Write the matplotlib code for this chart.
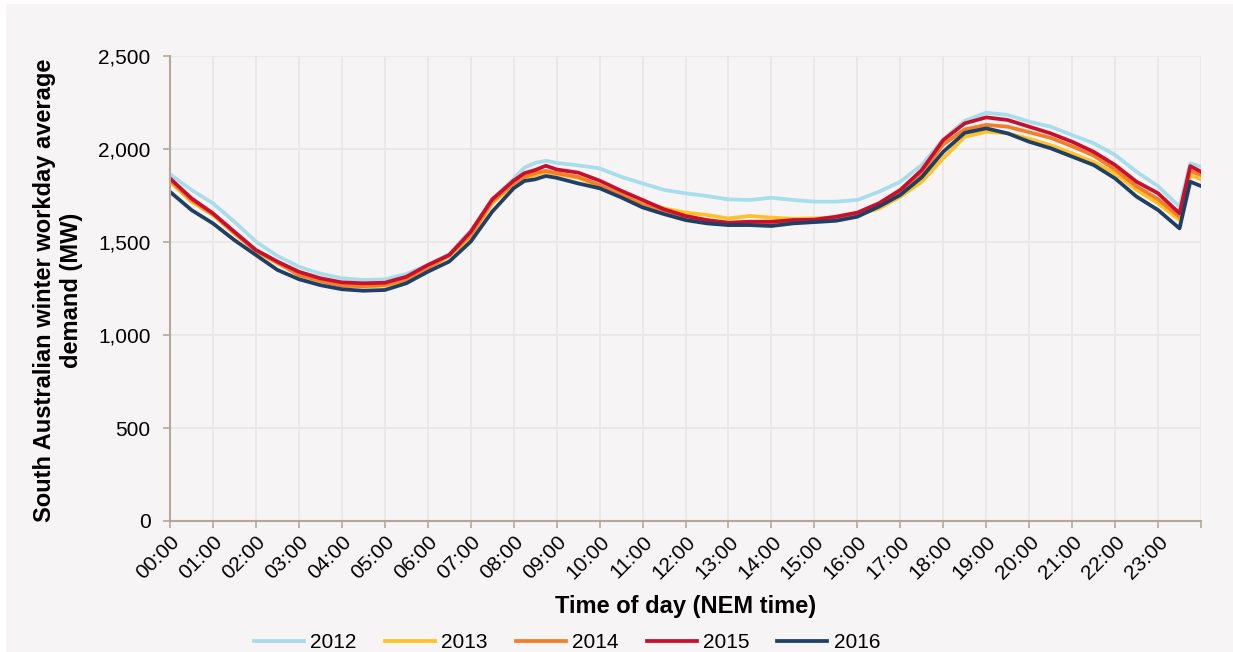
import matplotlib
matplotlib.use("Agg")
import matplotlib.pyplot as plt
from matplotlib.patches import Rectangle
from matplotlib.ticker import FuncFormatter

plt.rcParams['font.family'] = ['Liberation Sans', 'DejaVu Sans']

# sample times in hours: half-hourly, extra points round the morning peak,
# and two after the 23:30 hot-water switch-on
hours = ([h / 2 for h in range(16)] + [8.0, 8.25, 8.5, 8.75]
         + [h / 2 for h in range(18, 48)] + [23.75, 24.0])

d2012 = [1864, 1780, 1708, 1609, 1502, 1425, 1367, 1330, 1305, 1296, 1299, 1328,
         1376, 1435, 1560, 1730, 1840, 1900, 1925, 1937, 1925, 1912, 1896, 1851,
         1815, 1780, 1762, 1747, 1729, 1726, 1738, 1726, 1717, 1717, 1726, 1770,
         1824, 1914, 2052, 2152, 2195, 2183, 2147, 2120, 2075, 2031, 1968, 1878,
         1800, 1690, 1923, 1905]
d2013 = [1824, 1717, 1645, 1545, 1450, 1385, 1330, 1295, 1268, 1260, 1265, 1295,
         1352, 1425, 1525, 1708, 1806, 1840, 1860, 1878, 1865, 1845, 1800, 1758,
         1711, 1681, 1658, 1645, 1627, 1640, 1631, 1625, 1627, 1632, 1645, 1680,
         1744, 1824, 1950, 2066, 2093, 2084, 2055, 2020, 1977, 1930, 1869, 1780,
         1708, 1618, 1860, 1837]
d2014 = [1833, 1726, 1650, 1550, 1455, 1390, 1322, 1290, 1265, 1263, 1269, 1299,
         1358, 1430, 1537, 1717, 1815, 1850, 1870, 1882, 1870, 1850, 1806, 1753,
         1700, 1665, 1628, 1608, 1600, 1605, 1600, 1605, 1612, 1625, 1645, 1695,
         1765, 1870, 2025, 2105, 2130, 2120, 2090, 2060, 2015, 1965, 1890, 1800,
         1730, 1636, 1883, 1860]
d2015 = [1842, 1735, 1654, 1555, 1457, 1395, 1340, 1305, 1283, 1278, 1281, 1313,
         1376, 1430, 1555, 1729, 1830, 1870, 1887, 1910, 1890, 1873, 1830, 1776,
         1726, 1676, 1640, 1618, 1604, 1609, 1609, 1618, 1620, 1636, 1658, 1708,
         1780, 1887, 2048, 2138, 2170, 2156, 2120, 2084, 2039, 1985, 1914, 1824,
         1762, 1654, 1908, 1878]
d2016 = [1770, 1672, 1600, 1510, 1430, 1350, 1300, 1268, 1246, 1238, 1242, 1278,
         1340, 1395, 1502, 1663, 1789, 1828, 1837, 1855, 1845, 1815, 1789, 1740,
         1686, 1650, 1618, 1600, 1591, 1591, 1586, 1600, 1607, 1614, 1636, 1690,
         1753, 1848, 1985, 2087, 2111, 2084, 2039, 2004, 1959, 1914, 1842, 1744,
         1672, 1573, 1824, 1801]

years = ['2012', '2013', '2014', '2015', '2016']
series = [d2012, d2013, d2014, d2015, d2016]
colors = ['#A8DDEC', '#FFC125', '#F37E2A', '#C8102E', '#1E3F66']

tick_labels = ['%02d:00' % h for h in range(24)] + ['']

bg = '#F6F4F5'
axis_col = '#B3A899'

fig = plt.figure(figsize=(12.33, 6.52), dpi=100, facecolor='white')
fig.patches.append(Rectangle((6 / 1233, 0), 1, 1 - 4 / 652, transform=fig.transFigure,
                             facecolor=bg, edgecolor='none', zorder=-10))
ax = fig.add_axes([170 / 1233, 1 - 521 / 652, (1201 - 170) / 1233, (521 - 56) / 652])
ax.set_facecolor(bg)

for yr, vals, c in zip(years, series, colors):
    ax.plot(hours, vals, color=c, lw=2.7, label=yr, solid_joinstyle='round')

ax.set_xlim(0, 24)
ax.set_ylim(0, 2500)
ax.set_xticks(range(25))
ax.set_xticklabels(tick_labels, rotation=45, ha='right', va='top', rotation_mode='anchor')
ax.set_yticks(range(0, 2501, 500))
ax.yaxis.set_major_formatter(FuncFormatter(lambda v, p: '{:,.0f}'.format(v)))
ax.tick_params(axis='both', labelsize=15, colors=axis_col, labelcolor='black',
               length=5, width=1.2)
ax.tick_params(axis='y', pad=9)
ax.tick_params(axis='x', pad=3)
ax.grid(True, color='#E9E6E6', lw=1.2)
ax.set_axisbelow(True)
for s in ['top', 'right']:
    ax.spines[s].set_visible(False)
for s in ['left', 'bottom']:
    ax.spines[s].set_color(axis_col)
    ax.spines[s].set_linewidth(1.5)

fig.text(0.047, 0.555, 'South Australian winter workday average\ndemand (MW)',
         rotation=90, ha='center', va='center', fontsize=17, fontweight='bold',
         multialignment='center', linespacing=1.25)
fig.text(0.556, 1 - 607 / 652, 'Time of day (NEM time)', ha='center', va='center',
         fontsize=17, fontweight='bold')

fig.legend(loc='center', bbox_to_anchor=(0.46, 1 - 643 / 652), ncol=5, frameon=False,
           fontsize=15, handlelength=2.4, handletextpad=0.3, columnspacing=1.35,
           borderpad=0)

fig.savefig('out.png', dpi=100, facecolor=fig.get_facecolor())
